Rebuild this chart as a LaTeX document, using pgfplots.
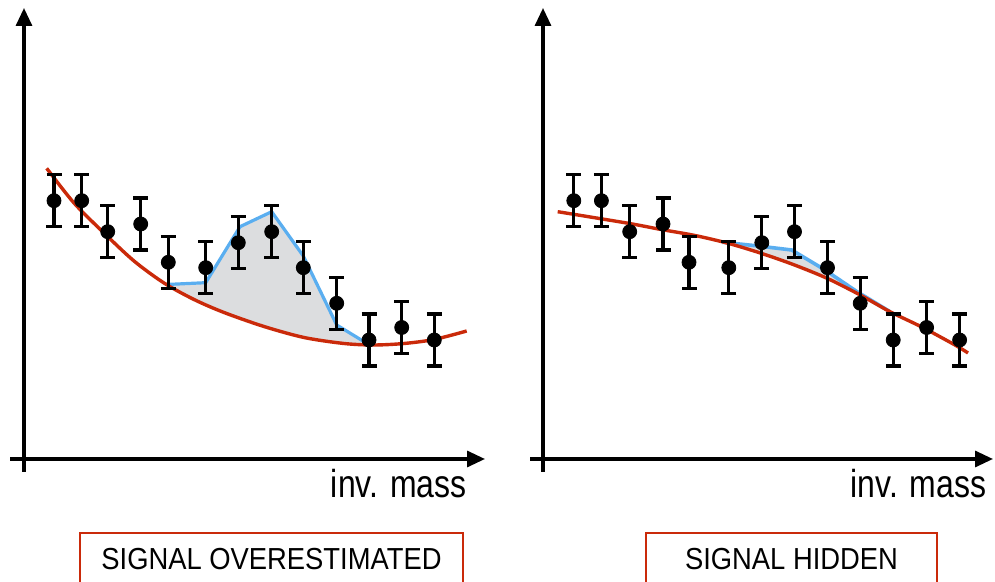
\documentclass[border=0pt]{standalone}
\usepackage{fontspec}
\setmainfont{Liberation Sans}
\newfontfamily\boxfont[FakeStretch=0.9]{Liberation Sans}
\newfontfamily\labfont[FakeStretch=0.82]{Liberation Sans}
\usepackage{pgfplots}
\pgfplotsset{compat=1.18}
\usepackage{pgfplotstable}
\usepgfplotslibrary{fillbetween}
\usetikzlibrary{arrows.meta}

\definecolor{fitred}{HTML}{CA2A0A}
\definecolor{sigblue}{HTML}{5AAEF0}
\definecolor{siggray}{HTML}{DCDDDF}

% measured spectrum (same counts in both panels), half error = 26
\pgfplotstableread{
x      y      e
30     258.3  26
57.7   258.3  26
83.7   227.3  26
116.7  235    26
144.3  196.7  26
181.7  191.3  26
214.3  216.3  26
247.7  227.3  26
279.3  191.3  26
312.7  155.7  26
345    119    26
377.7  131.5  26
410.3  119    26
}\dataleft
\pgfplotstableread{
x      y      e
30.8   258.3  26
58.4   258.3  26
86.7   227.3  26
120    235    26
146    196.7  26
185.8  191.3  26
218.8  216.3  26
251.5  227.3  26
284.5  191.3  26
317.2  155.7  26
350.2  119    26
383.6  131.5  26
416.6  119    26
}\dataright

% background fit (left) and signal+background (left)
\pgfplotstableread{
x      y
22.7   290.7
50     256
80     226
110    198
140    176
170    159.5
200    146.5
240    132.5
280    121.5
320    115.5
350    114
380    115.5
410    119.5
442.7  128
}\bgleft
\pgfplotstableread{
x      y
142.7  174.5
181.7  176.3
216    232.3
247.7  247.3
279.3  203
312.7  134
345    114.3
}\sbleft
% background fit (right) and signal+background (right)
\pgfplotstableread{
x      y
14.7   247.3
85.3   235.7
117    229.7
152    223.5
185.8  215.5
218.8  205.5
251.5  194
284.5  180.5
317.2  164
347    147.3
378.7  132
412    114
425    106
}\bgright
\pgfplotstableread{
x      y
179    216.8
215.3  213
248.7  209
282    189
313.7  167.5
347    147.3
}\sbright

\pgfplotsset{
  panel/.style={
    x=0.5pt, y=0.5pt,
    axis lines=middle,
    xtick=\empty, ytick=\empty,
    ymin=-13, ymax=451,
    clip=false,
    axis line style={line width=1.6pt, -{Triangle[length=9pt,width=8pt]}},
  },
  datapts/.style={
    only marks, mark=*, black, mark size=3.5pt,
    mark options={fill=black, draw=black},
    error bars/.cd, y dir=both, y explicit,
    error bar style={line width=1.6pt, black},
    error mark options={rotate=90, line width=1.6pt, mark size=3.75pt, black},
  },
}

\begin{document}
\begin{tikzpicture}

% ---------------- left panel ----------------
\begin{axis}[panel, xmin=-14, xmax=461, anchor=south west, at={(5pt,55pt)}]
  \addplot[name path=bgL, draw=none, smooth, forget plot] table {\bgleft};
  \addplot[name path=sbL, draw=none, forget plot] table {\sbleft};
  \addplot[siggray, forget plot] fill between[of=bgL and sbL, soft clip={domain=142.7:345}];
  \addplot[sigblue, line width=1.6pt] table {\sbleft};
  \addplot[fitred, line width=1.7pt, smooth] table {\bgleft};
  \addplot[datapts] table[x=x, y=y, y error=e] {\dataleft};
  \node[anchor=base east, inner sep=0pt, font=\labfont\fontsize{19.5}{20}\selectfont]
    at (axis cs:443,-39) {inv. mass};
\end{axis}

% ---------------- right panel ----------------
\begin{axis}[panel, xmin=-13, xmax=450, anchor=south west, at={(265pt,55pt)}]
  \addplot[name path=bgR, draw=none, smooth, forget plot] table {\bgright};
  \addplot[name path=sbR, draw=none, forget plot] table {\sbright};
  \addplot[siggray, forget plot] fill between[of=bgR and sbR, soft clip={domain=179:347}];
  \addplot[sigblue, line width=1.8pt] table {\sbright};
  \addplot[fitred, line width=1.7pt, smooth] table {\bgright};
  \addplot[datapts] table[x=x, y=y, y error=e] {\dataright};
  \node[anchor=base east, inner sep=0pt, font=\labfont\fontsize{19.5}{20}\selectfont]
    at (axis cs:443.7,-39) {inv. mass};
\end{axis}

% captions
\draw[fitred, line width=1.35pt] (40pt,-10pt) rectangle (231.5pt,24.5pt);
\node[anchor=base, inner sep=0pt, font=\boxfont\fontsize{15.2}{16}\selectfont]
  at (135.75pt,6pt) {SIGNAL OVERESTIMATED};
\draw[fitred, line width=1.35pt] (323pt,-10pt) rectangle (468.5pt,24.5pt);
\node[anchor=base, inner sep=0pt, font=\boxfont\fontsize{15.2}{16}\selectfont]
  at (395.75pt,6pt) {SIGNAL HIDDEN};

\pgfresetboundingbox
\useasboundingbox (0,0) rectangle (497.5pt,291pt);
\end{tikzpicture}
\end{document}
